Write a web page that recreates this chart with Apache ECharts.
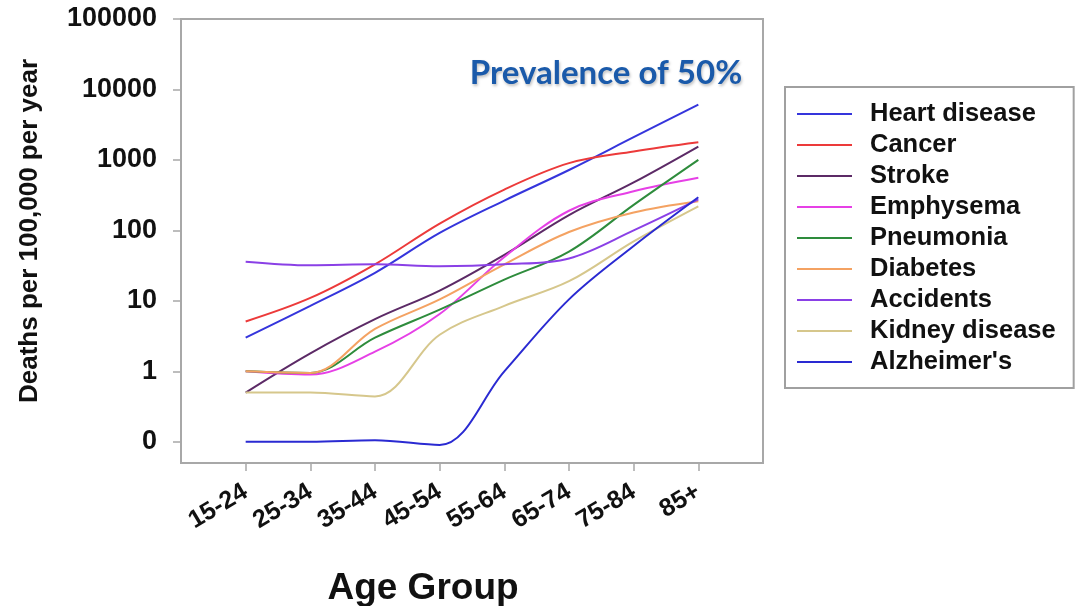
<!DOCTYPE html>
<html>
<head>
<meta charset="utf-8">
<script src="https://cdn.jsdelivr.net/npm/echarts@6/dist/echarts.min.js"></script>
<style>
html,body{margin:0;padding:0;background:#fff;}
#chart{width:1078px;height:606px;}
</style>
</head>
<body>
<div id="chart"></div>
<script>
const categories = ['15-24','25-34','35-44','45-54','55-64','65-74','75-84','85+'];
const yTicks = [0.1, 1, 10, 100, 1000, 10000, 100000];
const seriesNames = ['Heart disease','Cancer','Stroke','Emphysema','Pneumonia','Diabetes','Accidents','Kidney disease',"Alzheimer's"];
const heartDisease = [3.0, 8.5, 25, 92, 265, 720, 2100, 6100];
const cancer       = [5.1, 11, 33, 125, 380, 900, 1320, 1780];
const stroke       = [0.5, 1.8, 5.5, 14, 45, 165, 480, 1550];
const emphysema    = [1.0, 0.9, 1.9, 6.5, 42, 190, 360, 560];
const pneumonia    = [1.0, 0.95, 3.0, 7.5, 20, 50, 230, 1000];
const diabetes     = [1.0, 0.95, 4.0, 10.5, 33, 95, 180, 260];
const accidents    = [36, 32, 33, 31, 33, 40, 100, 275];
const kidney       = [0.5, 0.5, 0.44, 3.3, 8.5, 19, 70, 220];
const alzheimers   = [0.1, 0.1, 0.105, 0.09, 1.0, 10.5, 60, 295];

const allValues = [heartDisease, cancer, stroke, emphysema, pneumonia, diabetes, accidents, kidney, alzheimers];
const colors = ['#3535dc','#ec3a3a','#5c2a66','#e640e6','#2e8c3c','#f4a262','#8a40e6','#d6c78c','#2a2ad2'];

const FONT = '"Liberation Sans", Arial, sans-serif';
const chart = echarts.init(document.getElementById('chart'));

const series = seriesNames.map((name, s) => ({
  name: name,
  type: 'line',
  smooth: 0.35,
  symbol: 'none',
  lineStyle: { width: 2, color: colors[s] },
  itemStyle: { color: colors[s] },
  data: allValues[s].map((v, i) => [i, v])
}));

chart.setOption({
  backgroundColor: '#fff',
  animation: false,
  grid: {
    left: 181, right: 315, top: 19, bottom: 143,
    show: true, borderColor: '#a8a8a8', borderWidth: 2,
    outerBoundsMode: 'none', containLabel: false
  },
  title: [{
    text: 'Prevalence of 50%',
    left: 601, top: 52, textAlign: 'center',
    textStyle: {
      fontFamily: 'Lato, "Open Sans", sans-serif', fontWeight: 'bold', fontSize: 33,
      color: '#1a5aaa', textShadowColor: 'rgba(0,0,0,0.25)', textShadowBlur: 3,
      textShadowOffsetX: 1, textShadowOffsetY: 2
    }
  }, {
    text: 'Age Group',
    left: 418, top: 565, textAlign: 'center',
    textStyle: { fontFamily: FONT, fontWeight: 'bold', fontSize: 37, color: '#111' }
  }],
  graphic: [{
    type: 'text',
    x: 30, y: 231,
    rotation: Math.PI / 2,
    style: {
      text: 'Deaths per 100,000 per year',
      fontFamily: FONT, fontWeight: 'bold', fontSize: 26,
      fill: '#111', align: 'center', verticalAlign: 'middle'
    }
  }],
  legend: {
    orient: 'vertical',
    left: 785, top: 87,
    padding: [14, 18, 13, 12],
    icon: 'rect',
    itemWidth: 55, itemHeight: 2, itemGap: 5,
    borderColor: '#a0a0a0', borderWidth: 2,
    backgroundColor: '#fff',
    data: seriesNames,
    textStyle: {
      fontFamily: FONT, fontWeight: 'bold', fontSize: 25.5, color: '#111',
      lineHeight: 25, padding: [0, 0, 0, 13]
    }
  },
  xAxis: {
    type: 'value',
    min: -1, max: 8,
    splitLine: { show: false },
    axisLine: { show: true, onZero: false, lineStyle: { color: '#a8a8a8', width: 2 } },
    axisTick: { show: true, length: 8, customValues: [0,1,2,3,4,5,6,7], lineStyle: { color: '#a8a8a8', width: 1.5 } },
    axisLabel: {
      customValues: [0,1,2,3,4,5,6,7],
      rotate: 31, margin: 27,
      fontFamily: FONT, fontWeight: 'bold', fontSize: 25, color: '#111',
      formatter: v => categories[Math.round(v)] || ''
    }
  },
  yAxis: {
    type: 'log',
    logBase: 10,
    min: 0.05, max: 100000,
    splitLine: { show: false },
    axisLine: { show: true, onZero: false, lineStyle: { color: '#a8a8a8', width: 2 } },
    axisTick: { show: true, length: 8, customValues: yTicks, lineStyle: { color: '#a8a8a8', width: 1.5 } },
    axisLabel: {
      customValues: yTicks,
      margin: 24,
      fontFamily: FONT, fontWeight: 'bold', fontSize: 27, color: '#111',
      formatter: v => (v < 0.5 ? '0' : String(Math.round(v)))
    }
  },
  series: series
});
</script>
</body>
</html>
